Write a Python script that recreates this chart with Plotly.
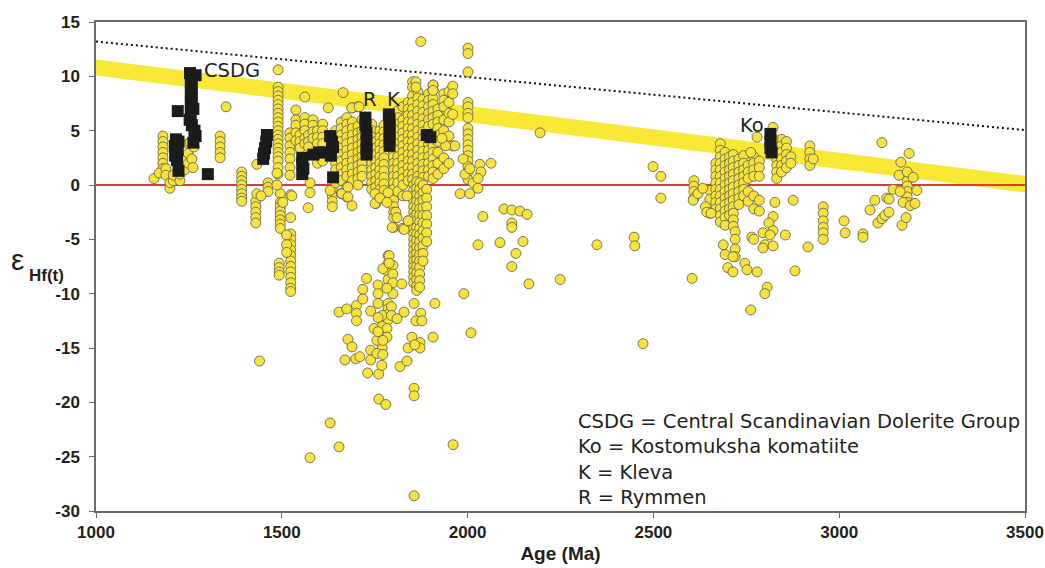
import plotly.graph_objects as go

# ---------------- data ----------------
# reference curves
dm_age = [1000, 3500]
dm_eps = [13.2, 5.05]
band_age = [1000, 3500, 3500, 1000]
band_eps = [11.55, 0.84, -0.69, 10.08]
chur_age = [1000, 3500]
chur_eps = [0, 0]

# yellow zircon data, vertical runs: (age, [eHf values])
yellow_cols = [
    (1180, [4.5, 4.0, 3.5, 3.0, 2.5, 2.0, 1.5]),
    (1334, [4.5, 4.0, 3.5, 3.0, 2.5]),
    (1392, [1.2, 0.8, 0.4, 0.0, -0.4, -0.8, -1.2, -1.5]),
    (1430, [-1.5, -2.0, -2.5, -3.0, -3.5]),
    (1463, [0.2, -0.2, -0.6]),
    (1490, [10.6, 9.0, 8.6, 8.2, 7.8, 7.4, 7.0, 6.6, 6.2, 5.8, 5.4, 5.0, 4.6, 4.2, 3.8, 3.4, 3.0, 2.6, 2.2, 1.6, 1.0]),
    (1496, [-0.8, -1.6, -2.0, -2.4, -2.8, -3.2, -3.6, -4.0]),
    (1493, [-7.2, -7.6, -8.0, -8.3]),
    (1524, [-0.9, -3.0, -4.5, -5.0, -5.5, -6.0, -6.5, -7.0, -7.5, -8.0, -8.5, -9.0, -9.5, -9.8]),
    (1513, [-4.6, -5.5, -6.2]),
    (1522, [4.8, 4.3, 3.6, 3.0, 2.4, 1.6, 0.9]),
    (1538, [6.9, 6.0, 5.5, 4.8, 4.1]),
    (1549, [4.6, 4.0, 3.4]),
    (1562, [8.1, 6.2, 5.6, 5.0, 4.3, 3.8]),
    (1572, [4.6, 4.0, 3.5]),
    (1584, [6.0, 5.5, 4.9, 4.3]),
    (1596, [5.0, 4.4, 3.8, 2.0]),
    (1610, [5.6, 5.0, 4.4, 3.8, 2.2]),
    (1636, [-0.5, -1.0, -1.5, -2.0]),
    (1645, [5.0, 4.4, 3.8, 3.2, 2.6, 2.0, 1.4, 0.2]),
    (1660, [5.8, 5.2, 4.6, 4.0, 3.4, 2.8, 2.2, 1.6, 1.0, 0.4, -0.8]),
    (1675, [6.2, 5.6, 5.0, 4.4, 3.8, 3.2, 2.6, 2.0, 1.4, 0.8, -0.2, -1.1]),
    (1690, [7.1, 5.8, 5.2, 4.6, 4.0, 3.4, 2.8, 2.2, 1.6, 1.0, 0.4]),
    (1705, [7.2, 5.4, 4.8, 4.2, 3.6, 3.0, 2.4, 1.8, 1.2, 0.6, 0.0]),
    (1716, [6.0, 5.0, 4.4, 3.8, 3.2, 2.6, 2.0, 1.4, 0.8]),
    (1742, [5.6, 5.0, 4.4, 3.8, 3.2, 2.6, 2.0, 1.4, 0.8, 0.2, -0.4]),
    (1753, [4.0, 3.4, 2.8, 2.2, 1.6, 1.0, 0.4, -0.2, -0.8, -1.7]),
    (1764, [5.0, 4.4, 3.8, 3.2, 2.6, 2.0, 1.4, 0.8, 0.2, -0.4, -1.2]),
    (1775, [5.5, 4.9, 4.3, 3.7, 3.1, 2.5, 1.9, 1.3, 0.7, 0.1, -0.5]),
    (1801, [3.2, 2.6, 2.0, 1.4, 0.8, 0.2, -0.4, -1.4, -2.0, -2.5, -3.0, -3.9]),
    (1812, [6.8, 6.2, 5.6, 5.0, 4.4, 3.8, 3.2, 2.6, 2.0, 1.4, 0.8, 0.2, -0.6]),
    (1826, [7.2, 6.0, 5.4, 4.8, 4.2, 3.6, 3.0, 2.4, 1.8, 1.2, 0.6, 0.0, -1.0, -4.0]),
    (1840, [7.6, 7.0, 6.4, 5.8, 5.2, 4.6, 4.0, 3.4, 2.8, 2.2, 1.6, 1.0, 0.4, -3.3]),
    (1852, [9.5, 9.0, 8.2, 7.6, 7.0, 6.4, 5.8, 5.2, 4.6, 4.0, 3.4, 2.8, 2.2, 1.6, 1.0, 0.5]),
    (1866, [8.6, 8.0, 7.4, 6.8, 6.2, 5.6, 5.0, 4.4, 3.8, 3.2, 2.6, 2.0, 1.4, 0.8]),
    (1880, [7.9, 7.3, 6.7, 6.1, 5.5, 4.9, 4.3, 3.7, 3.1, 2.5, 1.9, 1.3, 0.7]),
    (1895, [8.4, 7.8, 7.2, 6.6, 6.0, 5.4, 3.8, 3.2, 2.6, 2.0, 1.4, 0.8]),
    (1907, [9.2, 8.7, 8.0, 7.4, 6.8, 6.2, 5.6, 3.6, 3.0, 2.4, 1.8, 1.2, 0.6]),
    (1920, [7.0, 6.4, 5.8, 5.2, 4.6, 4.0, 3.0, 2.0, 1.0]),
    (1936, [8.4, 7.8, 7.2, 6.0, 5.0, 4.3, 2.5, 1.5]),
    (1950, [8.6, 7.6, 6.6, 5.8, 4.5, 2.0]),
    (1960, [9.1, 8.4, 6.5, 3.6]),
    (1855, [0.0, -0.5, -1.0, -1.5, -2.0, -2.5, -3.0, -3.5, -4.0, -4.5, -5.0, -5.5, -6.0, -6.5, -7.0, -7.5, -8.0, -8.5, -9.0]),
    (1863, [0.3, -0.3, -0.9, -1.5, -2.1, -2.7, -3.3, -3.9, -4.5, -5.1, -5.7, -6.3, -6.9, -7.5, -8.1, -8.7, -9.3, -9.7]),
    (1871, [0.2, -0.4, -1.0, -1.6, -2.2, -2.8, -3.4, -4.0, -4.6, -5.2, -5.8, -6.4, -7.0, -7.6, -8.2, -8.8, -9.4]),
    (1880, [0.0, -0.7, -1.4, -2.1, -2.8, -3.5, -4.2, -4.9, -5.6, -6.3, -7.0]),
    (1890, [-0.4, -1.2, -2.0, -2.8, -3.6, -4.4, -5.2]),
    (2001, [12.6, 12.1, 10.4, 7.6, 7.2, 6.6, 6.2, 5.2, 4.7, 4.2, 3.7, 3.2, 2.7, 2.2, 1.7, 1.2, 0.5]),
    (1786, [-6.5, -7.2, -8.0, -8.7]),
    (1799, [-7.4, -8.2, -9.0, -10.0]),
    (1759, [-9.2, -10.0, -10.9]),
    (1786, [-10.9, -11.4, -11.9, -12.4]),
    (1770, [-12.0, -13.0, -14.0, -15.0]),
    (2609, [0.4, -0.1, -0.6, -1.2]),
    (2652, [-0.5, -1.3, -2.6]),
    (2668, [2.0, 1.4, 0.8, 0.2, -0.4, -1.0, -1.6, -2.2]),
    (2680, [3.8, 3.2, 2.6, 2.0, 1.4, 0.8, 0.2, -0.4, -1.0, -1.6, -2.2, -2.8, -3.4]),
    (2693, [3.0, 2.4, 1.8, 1.2, 0.6, 0.0, -0.6, -1.2, -1.8, -2.4, -3.0, -3.7]),
    (2705, [2.6, 2.0, 1.4, 0.8, 0.2, -0.4, -1.0, -1.6, -2.2, -2.8]),
    (2715, [2.8, 2.2, 1.6, 1.0, 0.4, -0.2, -0.8, -1.4, -2.0, -2.6, -3.2, -3.8]),
    (2720, [-4.3, -5.0, -5.9, -6.6]),
    (2730, [2.4, 1.8, 1.2, 0.6, 0.0, -0.6, -1.2, -1.8]),
    (2743, [2.7, 2.0, 1.4, 0.8, 0.2, -0.4, -1.0]),
    (2755, [1.8, 1.2, 0.6, -0.6, -1.5]),
    (2770, [2.6, 2.0, 1.4, 0.8, -1.0, -2.2]),
    (2785, [2.2, 1.6, 0.8, -1.4, -2.4]),
    (2832, [3.6, 3.0, 2.4, 1.8, 1.2, 0.6]),
    (2845, [4.2, 3.6, 3.0, 2.4, 1.8, 1.2]),
    (2858, [4.0, 3.4, 2.8, 2.2, 1.6]),
    (2870, [2.6, 2.0]),
    (2921, [3.6, 3.0, 2.4, 1.8]),
    (2957, [-2.0, -2.6, -3.3, -3.9, -4.4, -5.0]),
    (3183, [0.4, -0.1, -0.6, -1.1, -1.6]),
]

# yellow zircon data, scattered single analyses
yellow_age = [1156, 1170, 1188, 1188, 1199, 1199, 1208, 1208, 1226, 1226, 1231, 1239, 1239,
              1248, 1248, 1248, 1258, 1264, 1253, 1261, 1350, 1433, 1444, 1440, 1433, 1487,
              1487, 1503, 1527, 1571, 1576, 1576, 1625, 1665, 1688, 1708, 1630, 1662, 1678,
              1678, 1689, 1751, 1751, 1764, 1786, 1783, 1807, 1810, 1797, 1826, 1837, 1829,
              1840, 1861, 1861, 1907, 1907, 1874, 1988, 1993, 2006, 2015, 2033, 2036, 2028,
              2063, 1980, 2006, 2028, 1966, 1941, 1931, 2195, 2499, 2520, 2520,
              2041, 2028, 2087, 2098, 2119, 2141, 2160, 2119, 2119, 2149, 2130, 2119, 2165,
              2249, 2348, 2448, 2450, 2472, 1990, 2009, 1961,
              1654, 1675, 1701, 1701, 1701, 1718, 1728, 1739, 1678, 1689, 1670, 1699, 1710,
              1731, 1761, 1739, 1739, 1748, 1756, 1756, 1772, 1789, 1789, 1783, 1795, 1795,
              1810, 1823, 1829, 1783, 1783, 1772, 1772, 1769, 1818, 1837, 1840, 1850, 1872,
              1872, 1858, 1856, 1874, 1861, 1877, 1907, 1912, 1856, 1856, 1761, 1780, 1630,
              1654, 1576, 1856, 1718, 1759, 1759,
              2604, 2607, 2620, 2633, 2640, 2644, 2655, 2688, 2693, 2714, 2700, 2714, 2746,
              2752, 2779, 2762, 2779, 2765, 2770, 2795, 2800, 2795, 2806, 2800, 2762, 2822,
              2811, 2822, 2814, 2822, 2827, 2822, 2822, 2855, 2876, 2881, 2916, 2930, 3013,
              3016, 3064, 3064, 3115, 3083, 3096, 3104, 3115, 3123, 3134, 3128, 3134, 3145,
              3166, 3188, 3161, 3183, 3199, 3164, 3172, 3191, 3204, 3209, 3169, 3180]
yellow_eps = [0.6, 1.1, 1.5, 0.9, -0.3, 0.2, 0.4, 0.9, 0.4, 1.0, 1.8, 2.3, 1.4,
              3.8, 2.9, 2.0, 2.4, 3.5, 3.9, 1.6, 7.2, -0.8, -1.0, -16.2, 1.9, 1.1,
              0.0, -1.6, -1.0, -2.1, -0.7, 0.2, 7.1, 8.5, 7.1, 7.2, -0.5, -0.8, -0.2,
              -1.1, -1.9, -0.8, -1.7, -1.2, -0.7, -1.6, -2.5, -3.0, -3.9, -4.0, -1.0, -4.1,
              -3.3, 9.5, 9.0, 9.2, 8.7, 13.2, 2.4, 1.0, 1.5, 0.2, 1.9, 1.2, 0.6,
              2.0, -0.8, -0.8, -0.3, 3.6, 3.6, 4.3, 4.8, 1.7, 0.8, -1.2,
              -2.9, -5.5, -5.3, -2.2, -2.3, -2.4, -2.7, -3.5, -3.9, -5.2, -6.3, -7.5, -9.1,
              -8.7, -5.5, -4.8, -5.6, -14.6, -10.0, -13.6, -23.9,
              -11.7, -11.4, -11.1, -11.8, -12.5, -9.6, -8.6, -11.6, -14.2, -14.9, -16.1, -16.0, -15.8,
              -17.3, -17.4, -15.2, -16.1, -13.2, -14.3, -15.5, -7.7, -6.5, -7.2, -9.5, -11.2, -12.0,
              -12.3, -9.1, -11.7, -13.2, -14.0, -14.3, -15.6, -16.6, -16.7, -16.2, -15.0, -14.0, -14.5,
              -15.0, -14.7, -10.9, -11.8, -12.5, -12.5, -14.0, -10.9, -18.7, -19.4, -19.7, -20.2, -21.9,
              -24.1, -25.1, -28.6, -10.5, -12.2, -13.5,
              -8.6, -1.4, -0.8, -0.3, -2.0, -2.5, -2.6, -5.5, -6.4, -6.6, -7.6, -8.0, -7.2,
              -7.8, -8.0, 3.0, 4.4, -4.8, -5.0, -4.4, -5.5, -5.8, -9.4, -10.0, -11.5, -2.9,
              -3.5, -4.2, -4.6, -5.6, -1.6, 5.3, 4.3, -4.6, -1.4, -7.9, -5.7, 2.4, -3.3,
              -4.4, -4.5, -4.8, 3.9, -2.3, -1.4, -3.5, -3.1, -2.8, -2.5, -1.2, -1.3, -0.4,
              2.1, 2.9, 0.9, 1.2, 0.7, -0.6, -1.6, -1.9, -1.7, -0.5, -3.7, -3.0]

# black squares: dated mafic units (CSDG, Rymmen, Kleva, Kostomuksha ...)
black_age = [1220, 1215, 1222, 1212, 1220, 1213, 1218, 1222,
             1253, 1268, 1255, 1258, 1255, 1258, 1255, 1262, 1255, 1252, 1258, 1265, 1268, 1262,
             1301,
             1460, 1458, 1455, 1452, 1450,
             1555, 1555, 1558, 1555, 1585, 1600, 1615,
             1630, 1635, 1638, 1632, 1638,
             1725, 1725, 1728, 1728, 1728, 1728,
             1788, 1790, 1790, 1790, 1790, 1790,
             1890, 1900,
             2815, 2815, 2815, 2818]
black_eps = [6.8, 4.2, 4.0, 3.6, 3.2, 2.7, 2.3, 1.3,
             10.3, 10.1, 9.5, 9.0, 8.5, 8.0, 7.5, 7.0, 6.5, 6.0, 5.5, 5.0, 4.5, 3.9,
             1.0,
             4.6, 4.0, 3.4, 2.9, 2.4,
             2.5, 2.0, 1.5, 1.0, 2.8, 3.0, 3.0,
             4.5, 4.0, 3.5, 2.7, 0.7,
             6.2, 5.5, 4.8, 4.0, 3.3, 2.8,
             6.5, 6.0, 5.4, 4.8, 4.2, 3.6,
             4.6, 4.4,
             4.7, 4.0, 3.4, 3.0]

labels = ["CSDG", "R", "K", "Ko"]
label_age = [1367, 1736, 1802, 2764]
label_eps = [10.5, 7.85, 7.85, 5.5]

key_lines = ["CSDG = Central Scandinavian Dolerite Group",
             "Ko = Kostomuksha komatiite",
             "K = Kleva",
             "R = Rymmen"]

x_ticks = [1000, 1500, 2000, 2500, 3000, 3500]
y_ticks = [15, 10, 5, 0, -5, -10, -15, -20, -25, -30]

# ---------------- figure ----------------
ya, ye = [], []
for a, vals in yellow_cols:
    for v in vals:
        ya.append(a)
        ye.append(v)
ya += yellow_age
ye += yellow_eps

fig = go.Figure()
fig.add_trace(go.Scatter(x=band_age, y=band_eps, fill="toself", mode="lines",
                         line=dict(width=0), fillcolor="#F9E936", hoverinfo="skip"))
fig.add_trace(go.Scatter(x=dm_age, y=dm_eps, mode="lines",
                         line=dict(color="#111111", width=2, dash="2px,3px")))
fig.add_trace(go.Scatter(x=chur_age, y=chur_eps, mode="lines",
                         line=dict(color="#E03A36", width=2)))
fig.add_trace(go.Scatter(x=ya, y=ye, mode="markers",
                         marker=dict(symbol="circle", size=10, color="#F7E33C",
                                     line=dict(color="#5a5a4a", width=0.8))))
fig.add_trace(go.Scatter(x=black_age, y=black_eps, mode="markers",
                         marker=dict(symbol="square", size=12, color="#1b1b1b",
                                     line=dict(width=0))))

text_font = dict(family="DejaVu Sans, Open Sans, sans-serif", size=19.5, color="#231f20")
for t, a, e in zip(labels, label_age, label_eps):
    fig.add_annotation(x=a, y=e, text=t, showarrow=False, font=text_font,
                       xanchor="center", yanchor="middle")

fig.add_annotation(xref="paper", yref="paper", x=0.5164, y=0.106,
                   text="<br>".join(key_lines), align="left",
                   showarrow=False, font=text_font,
                   xanchor="left", yanchor="middle")

# y-axis label: epsilon Hf(t)
fig.add_annotation(xref="paper", yref="paper", x=-0.0753, y=0.515, text="ε",
                   showarrow=False, xanchor="right", yanchor="middle",
                   font=dict(family="Liberation Sans, Arial, sans-serif", size=30, color="#231f20"))
fig.add_annotation(xref="paper", yref="paper", x=-0.0743, y=0.481, text="<b>Hf(t)</b>",
                   showarrow=False, xanchor="left", yanchor="middle",
                   font=dict(family="Liberation Sans, Arial, sans-serif", size=17, color="#231f20"))

tick_font = dict(family="Liberation Sans, Arial, sans-serif",
                 size=17, color="#231f20", weight="bold")
axis_common = dict(showline=True, linecolor="#6a6a6a", linewidth=1.5, mirror=True,
                   ticks="outside", ticklen=5, tickcolor="#6a6a6a", tickwidth=1.2,
                   showgrid=False, zeroline=False, tickfont=tick_font,
                   automargin=False, ticklabeloverflow="allow")

fig.update_layout(
    width=1045, height=568,
    margin=dict(l=96, r=20, t=22, b=57),
    paper_bgcolor="white", plot_bgcolor="white",
    showlegend=False,
    xaxis=dict(range=[1000, 3500], tickvals=x_ticks, ticktext=[str(v) for v in x_ticks],
               title=dict(text="Age (Ma)", standoff=6,
                          font=dict(family="Liberation Sans, Arial, sans-serif",
                                    size=19, color="#231f20", weight="bold")),
               **axis_common),
    yaxis=dict(range=[-30, 15], tickvals=y_ticks, ticktext=[str(v) for v in y_ticks],
               ticklabelstandoff=6, **axis_common),
)

# remove the default page margin so the 1045x568 figure fills the window exactly
fig.write_html("out.html", config={"displayModeBar": False},
               post_script="document.body.style.margin='0';document.body.style.overflow='hidden';")
